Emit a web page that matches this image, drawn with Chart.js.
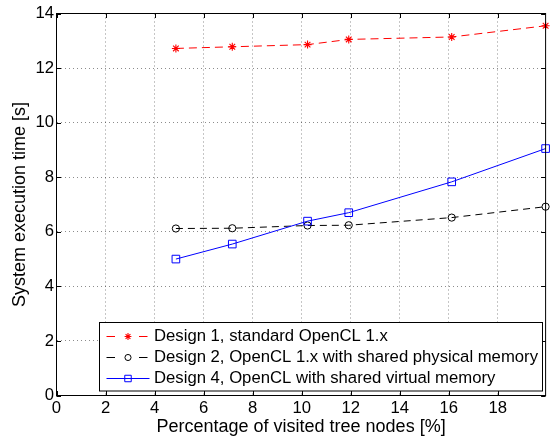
<!DOCTYPE html>
<html>
<head>
<meta charset="utf-8">
<script src="https://cdn.jsdelivr.net/npm/chart.js@4.4.0/dist/chart.umd.min.js"></script>
<style>
  html, body { margin: 0; padding: 0; background: #fff; }
</style>
</head>
<body>
<canvas id="grafico" width="552" height="441"></canvas>
<script>
// ------------------ datos -------------------------------

// porcentaje de nodos visitados (eje x)
const visitados = [4.87, 7.17, 10.24, 11.92, 16.12, 19.95];

// tiempo de ejecucion [s] de cada diseño
const design1 = [12.72, 12.78, 12.86, 13.05, 13.14, 13.55];
const design2 = [6.12, 6.13, 6.23, 6.24, 6.52, 6.92];
const design4 = [5.0, 5.55, 6.39, 6.7, 7.83, 9.05];

const nombres = [
    "Design 1, standard OpenCL 1.x",
    "Design 2, OpenCL 1.x with shared physical memory",
    "Design 4, OpenCL with shared virtual memory",
];

const xTicks = [0, 2, 4, 6, 8, 10, 12, 14, 16, 18];
const yTicks = [0, 2, 4, 6, 8, 10, 12, 14];

// ------------------ estilos -------------------------------

const fuente = '"Liberation Sans", Arial, Helvetica, sans-serif';
Chart.defaults.font.family = fuente;
Chart.defaults.color = "#000";

const puntos = (ys) => visitados.map((x, i) => ({ x: x, y: ys[i] }));

const series = [
    { label: nombres[0], data: puntos(design1), borderColor: "#ff0000", borderDash: [8, 5],
      pointStyle: "star", pointRadius: 4, pointBorderWidth: 1.1, order: 3 },
    { label: nombres[1], data: puntos(design2), borderColor: "#000000", borderDash: [7, 5],
      pointStyle: "circle", pointRadius: 3.6, pointBorderWidth: 1, order: 2 },
    { label: nombres[2], data: puntos(design4), borderColor: "#0000ff", borderDash: [],
      pointStyle: "rect", pointRadius: 5.4, pointBorderWidth: 1, order: 1 },
];
series.forEach((s) => {
    s.borderWidth = 1;
    s.pointBorderColor = s.borderColor;
    s.pointBackgroundColor = "rgba(0,0,0,0)";
    s.backgroundColor = "rgba(0,0,0,0)";
    s.fill = false;
    s.tension = 0;
    s.clip = false;
});

// ------------------ caja, marcas y leyenda -------------------------------

function marcador(ctx, estilo, radio, x, y) {
    if (Chart.helpers && Chart.helpers.drawPoint) {
        Chart.helpers.drawPoint(ctx, { pointStyle: estilo, radius: radio, rotation: 0, borderWidth: 1 }, x, y);
    }
}

const cajaPlugin = {
    id: "caja",
    afterDraw(chart) {
        const ctx = chart.ctx;
        const a = chart.chartArea;
        const sx = chart.scales.x;
        const sy = chart.scales.y;
        ctx.save();
        ctx.strokeStyle = "#000";
        ctx.lineWidth = 1;
        ctx.setLineDash([]);
        ctx.strokeRect(a.left, a.top, a.right - a.left, a.bottom - a.top);

        // marcas hacia dentro, como en matlab
        const largo = 4.5;
        ctx.beginPath();
        xTicks.forEach((v) => {
            const px = Math.round(sx.getPixelForValue(v)) + 0.5;
            ctx.moveTo(px, a.bottom); ctx.lineTo(px, a.bottom - largo);
            ctx.moveTo(px, a.top); ctx.lineTo(px, a.top + largo);
        });
        yTicks.forEach((v) => {
            const py = Math.round(sy.getPixelForValue(v)) + 0.5;
            ctx.moveTo(a.left, py); ctx.lineTo(a.left + largo, py);
            ctx.moveTo(a.right, py); ctx.lineTo(a.right - largo, py);
        });
        ctx.stroke();

        // leyenda
        const lx = 99.5, ly = 322.5, lw = 443, lh = 68.5;
        ctx.fillStyle = "#fff";
        ctx.fillRect(lx, ly, lw, lh);
        ctx.strokeRect(lx, ly, lw, lh);
        ctx.font = "16.7px " + fuente;
        ctx.textBaseline = "middle";
        ctx.textAlign = "left";
        series.forEach((s, i) => {
            const y = 336.5 + i * 21;
            ctx.strokeStyle = s.borderColor;
            ctx.lineWidth = 1;
            ctx.beginPath();
            if (s.borderDash.length) {
                ctx.moveTo(106.5, y); ctx.lineTo(115, y);
                ctx.moveTo(139, y); ctx.lineTo(147.5, y);
            } else {
                ctx.moveTo(106.5, y); ctx.lineTo(149.5, y);
            }
            ctx.stroke();
            ctx.fillStyle = "rgba(0,0,0,0)";
            ctx.lineWidth = s.pointBorderWidth;
            marcador(ctx, s.pointStyle, s.pointRadius * 0.85, 128, y);
            ctx.fillStyle = "#000";
            ctx.fillText(s.label, 154, y);
        });
        ctx.restore();
    },
};

// ------------------ grafico -------------------------------

const grafico = new Chart(document.getElementById("grafico").getContext("2d"), {
    type: "line",
    data: { datasets: series },
    options: {
        responsive: false,
        animation: false,
        layout: { padding: { top: 13.5, right: 5.5, left: 0, bottom: 0 } },
        plugins: { legend: { display: false }, tooltip: { enabled: false } },
        scales: {
            x: {
                type: "linear",
                min: 0,
                max: 19.95,
                afterBuildTicks: (s) => { s.ticks = xTicks.map((v) => ({ value: v })); },
                afterFit: (s) => { s.height = 45.5; },
                ticks: { font: { size: 16.7 }, padding: 3, maxRotation: 0, autoSkip: false },
                grid: { color: "rgba(0,0,0,0.45)", lineWidth: 1, drawTicks: false },
                border: { display: false, dash: [1, 3] },
                title: {
                    display: true,
                    text: "Percentage of visited tree nodes [%]",
                    font: { size: 18 },
                    padding: { top: 0, bottom: 3 },
                },
            },
            y: {
                type: "linear",
                min: 0,
                max: 14,
                afterBuildTicks: (s) => { s.ticks = yTicks.map((v) => ({ value: v })); },
                afterFit: (s) => { s.width = 56.5; },
                ticks: { font: { size: 16.7 }, padding: 2.5, autoSkip: false },
                grid: { color: "rgba(0,0,0,0.45)", lineWidth: 1, drawTicks: false },
                border: { display: false, dash: [1, 3] },
                title: {
                    display: true,
                    text: "System execution time [s]",
                    font: { size: 18 },
                    padding: { top: 9, bottom: 0 },
                },
            },
        },
    },
    plugins: [cajaPlugin],
});
</script>
</body>
</html>
